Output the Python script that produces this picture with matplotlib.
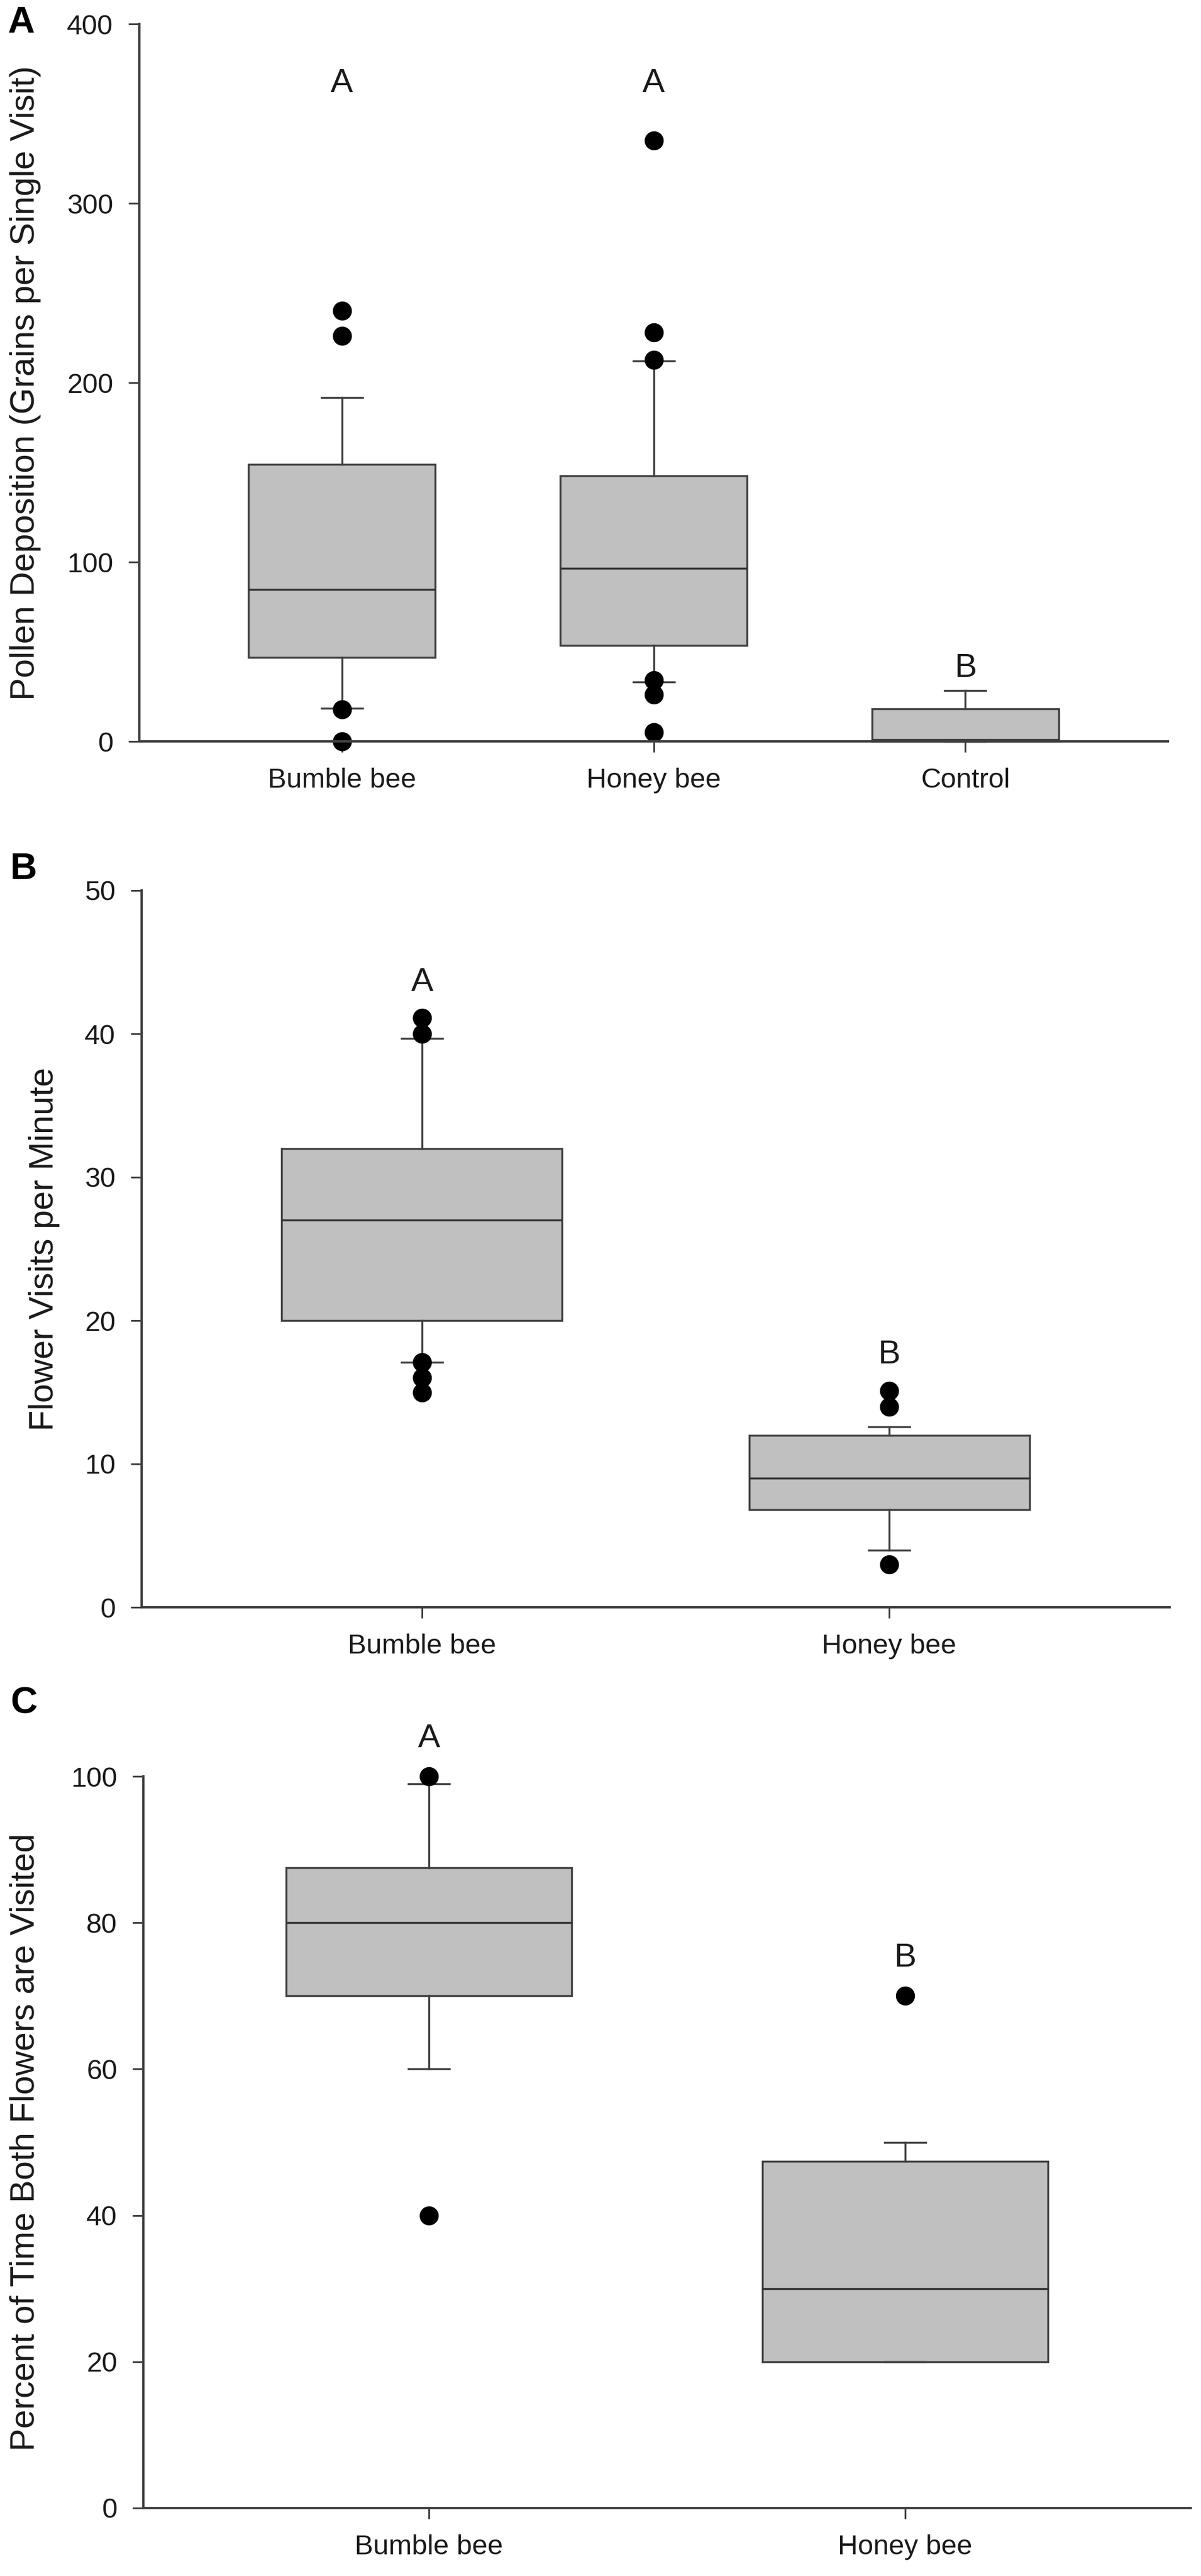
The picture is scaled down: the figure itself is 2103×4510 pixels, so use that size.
import matplotlib
matplotlib.use("Agg")
import matplotlib.pyplot as plt

plt.rcParams['font.family'] = ['Liberation Sans', 'DejaVu Sans']

# ============================================================
# Data
# ============================================================

# Panel A: pollen deposition
a_groups = ["Bumble bee", "Honey bee", "Control"]
a_q1 = [46.7, 53.5, 0.0]
a_med = [84.8, 96.4, 1.0]
a_q3 = [154.6, 148.0, 18.0]
a_whislo = [18.6, 33.0, 0.0]
a_whishi = [191.6, 212.0, 28.4]
a_fliers = [[240.0, 226.0, 17.7, 0.0], [335.0, 228.0, 212.6, 34.0, 26.0, 5.0], []]
a_letters = ["A", "A", "B"]
a_letter_y = [362, 362, 36]

# Panel B: flower visits per minute
b_groups = ["Bumble bee", "Honey bee"]
b_q1 = [20.0, 6.8]
b_med = [27.0, 9.0]
b_q3 = [32.0, 12.0]
b_whislo = [17.1, 4.0]
b_whishi = [39.7, 12.6]
b_fliers = [[41.1, 40.0, 17.1, 16.0, 15.0], [15.1, 14.0, 3.0]]
b_letters = ["A", "B"]
b_letter_y = [43.0, 17.0]

# Panel C: percent of time both flowers visited
c_groups = ["Bumble bee", "Honey bee"]
c_q1 = [70.0, 20.0]
c_med = [80.0, 30.0]
c_q3 = [87.5, 47.4]
c_whislo = [60.0, 20.0]
c_whishi = [99.0, 50.0]
c_fliers = [[100.0, 40.0], [70.0]]
c_letters = ["A", "B"]
c_letter_y = [104.0, 74.0]

# ============================================================
# Layout (pixels of the 2103 x 4510 image)
# ============================================================

W, H = 2103, 4510
DPI = 100

panels = [
    dict(tag="A", groups=a_groups, q1=a_q1, med=a_med, q3=a_q3, lo=a_whislo, hi=a_whishi,
         fliers=a_fliers, letters=a_letters, letter_y=a_letter_y,
         ylim=(0, 400), yticks=[0, 100, 200, 300, 400],
         ylabel="Pollen Deposition (Grains per Single Visit)",
         box=(244, 2045, 42, 1298), margin=0.65, label_x=45, tag_xy=(13, 57)),
    dict(tag="B", groups=b_groups, q1=b_q1, med=b_med, q3=b_q3, lo=b_whislo, hi=b_whishi,
         fliers=b_fliers, letters=b_letters, letter_y=b_letter_y,
         ylim=(0, 50), yticks=[0, 10, 20, 30, 40, 50],
         ylabel="Flower Visits per Minute",
         box=(248, 2048, 1559, 2814), margin=0.6, label_x=78, tag_xy=(18, 1539)),
    dict(tag="C", groups=c_groups, q1=c_q1, med=c_med, q3=c_q3, lo=c_whislo, hi=c_whishi,
         fliers=c_fliers, letters=c_letters, letter_y=c_letter_y,
         ylim=(0, 100), yticks=[0, 20, 40, 60, 80, 100],
         ylabel="Percent of Time Both Flowers are Visited",
         box=(251, 2085, 3110, 4391), margin=0.6, label_x=44, tag_xy=(18, 2999)),
]

edge = "#404040"
fill = "#c0c0c0"
text_col = "#1a1a1a"

fig = plt.figure(figsize=(W / DPI, H / DPI), dpi=DPI)

for p in panels:
    left, right, top, bottom = p["box"]
    ax = fig.add_axes([left / W, 1 - bottom / H, (right - left) / W, (bottom - top) / H])

    n = len(p["groups"])
    positions = list(range(1, n + 1))
    stats = []
    for i in range(n):
        stats.append(dict(med=p["med"][i], q1=p["q1"][i], q3=p["q3"][i],
                          whislo=p["lo"][i], whishi=p["hi"][i], fliers=p["fliers"][i]))

    spacing_px = (right - left) / (n - 1 + 2 * p["margin"])
    cap = 72 / spacing_px

    art = ax.bxp(stats, positions=positions, widths=0.6, capwidths=cap,
                 patch_artist=True, showfliers=True,
                 boxprops=dict(facecolor=fill, edgecolor=edge, linewidth=2.5),
                 medianprops=dict(color="#333333", linewidth=2.5),
                 whiskerprops=dict(color=edge, linewidth=2.5),
                 capprops=dict(color=edge, linewidth=2.5),
                 flierprops=dict(marker="o", markerfacecolor="black",
                                 markeredgecolor="black", markersize=23))
    for key in art:
        for a in art[key]:
            a.set_clip_on(False)

    ax.set_xlim(1 - p["margin"], n + p["margin"])
    ax.set_ylim(*p["ylim"])
    ax.set_yticks(p["yticks"])
    ax.set_xticks(positions)
    ax.set_xticklabels(p["groups"])

    for s in ["top", "right"]:
        ax.spines[s].set_visible(False)
    for s in ["left", "bottom"]:
        ax.spines[s].set_linewidth(3)
        ax.spines[s].set_color(edge)

    ax.tick_params(axis="both", direction="out", length=14, width=2.2, color=edge,
                   pad=19, labelsize=35, labelcolor=text_col)

    ax.set_ylabel(p["ylabel"], fontsize=43, color=text_col, va="center")
    ax.yaxis.set_label_coords((p["label_x"] - left) / (right - left), 0.5)

    for x, lt, ly in zip(positions, p["letters"], p["letter_y"]):
        ax.text(x, ly, lt, fontsize=42, ha="center", va="baseline", color=text_col)

    fig.text(p["tag_xy"][0] / W, 1 - p["tag_xy"][1] / H, p["tag"], fontsize=47,
             fontweight="bold", ha="left", va="baseline", color="black")

fig.savefig("out.png", dpi=DPI)
